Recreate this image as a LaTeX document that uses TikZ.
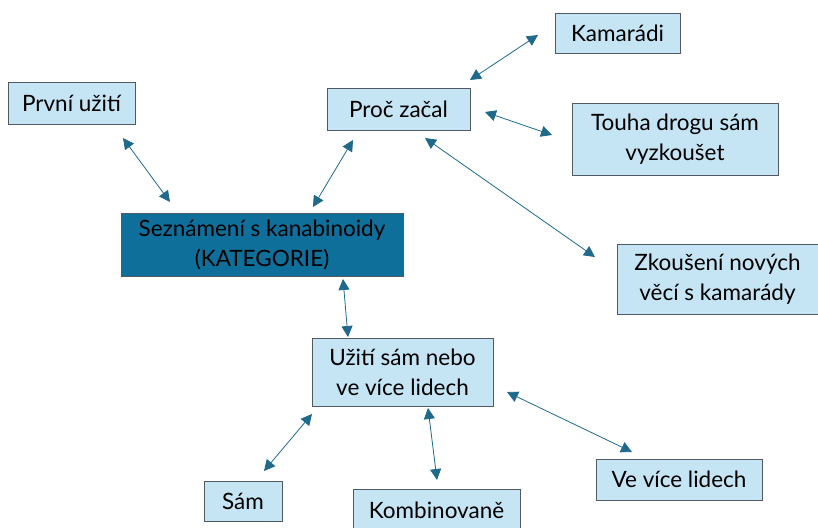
\documentclass[tikz,border=0pt]{standalone}
\usepackage{fontspec}
\setmainfont{Lato}
\usetikzlibrary{arrows.meta}
\definecolor{boxfill}{HTML}{C5E5F5}
\definecolor{catfill}{HTML}{0E6F9B}
\definecolor{arrcol}{HTML}{1F6A8A}
\definecolor{edgecol}{HTML}{505A60}
\tikzset{
  subbox/.style={draw=edgecol,line width=0.9pt,fill=boxfill,align=center,inner sep=0pt,
    font=\fontsize{22.5}{30}\selectfont},
  catbox/.style={subbox,fill=catfill},
  link/.style={arrcol,line width=0.8pt,
    {Triangle[length=11pt,width=11pt]}-{Triangle[length=11pt,width=11pt]}}
}
\begin{document}
\begin{tikzpicture}[x=1pt,y=-1pt]
    \useasboundingbox (0,0) rectangle (818,527);
    % boxes
    \node[subbox,minimum width=127pt,minimum height=42pt] (prvni) at (71.5,103) {První užití};
    \node[subbox,minimum width=143pt,minimum height=42pt] (proc) at (398.5,109) {Proč začal};
    \node[subbox,minimum width=125pt,minimum height=40pt] (kamaradi) at (617.5,33) {Kamarádi};
    \node[subbox,minimum width=206pt,minimum height=72pt] (touha) at (675,139) {Touha drogu sám\\vyzkoušet};
    \node[catbox,minimum width=282pt,minimum height=63pt] (seznameni) at (262,244.5) {Seznámení s kanabinoidy\\(KATEGORIE)};
    \node[subbox,minimum width=201pt,minimum height=70pt] (zkouseni) at (717.5,279) {Zkoušení nových\\věcí s kamarády};
    \node[subbox,minimum width=181pt,minimum height=68pt] (uziti) at (402.5,372) {Užití sám nebo\\ve více lidech};
    \node[subbox,minimum width=78pt,minimum height=40pt] (sam) at (243,501) {Sám};
    \node[subbox,minimum width=167pt,minimum height=42pt] (kombi) at (436.5,510) {Kombinovaně};
    \node[subbox,minimum width=166pt,minimum height=41pt] (vice) at (679,479.5) {Ve více lidech};
    % arrow ends
    \coordinate (a1) at (123,138);  \coordinate (b1) at (170,202);
    \coordinate (a2) at (353,140);  \coordinate (b2) at (313,207);
    \coordinate (a3) at (470,80);   \coordinate (b3) at (538,35);
    \coordinate (a4) at (485,112);  \coordinate (b4) at (552,135);
    \coordinate (a5) at (425,138);  \coordinate (b5) at (595,257);
    \coordinate (a6) at (343,279);  \coordinate (b6) at (348,337);
    \coordinate (a7) at (312,414);  \coordinate (b7) at (264,471);
    \coordinate (a8) at (428,408);  \coordinate (b8) at (437,480);
    \coordinate (a9) at (507,392);  \coordinate (b9) at (632,452);
    % arrows
    \foreach \i in {1,...,9}
      \draw[link] (a\i) -- (b\i);
\end{tikzpicture}
\end{document}
